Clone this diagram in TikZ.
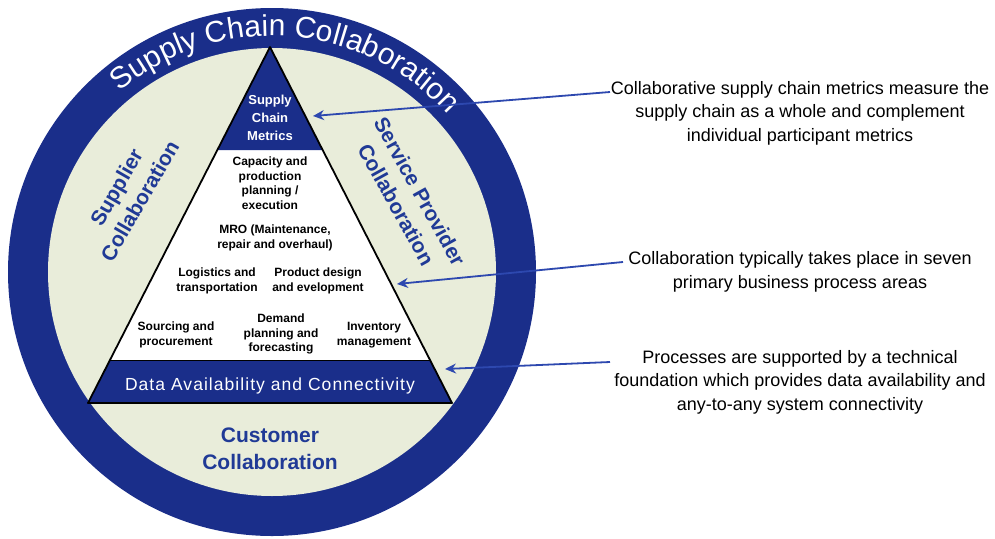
\documentclass[tikz,border=0pt]{standalone}
\usepackage{fontspec}
\setmainfont{Liberation Sans}
\usetikzlibrary{decorations.text,arrows.meta}
\definecolor{ringblue}{RGB}{26,46,138}
\definecolor{fillcream}{RGB}{233,237,218}
\definecolor{txtblue}{RGB}{32,58,150}
\definecolor{arrowblue}{RGB}{45,72,175}
\newcommand{\ringfont}{\fontsize{30}{30}\selectfont\color{white}}
\begin{document}
\begin{tikzpicture}[x=1pt,y=1pt,
  tri/.style={font=\bfseries\fontsize{12}{14.5}\selectfont, align=center, inner sep=0pt},
  bandtxt/.style={font=\bfseries\fontsize{13}{18}\selectfont, text=white, align=center, inner sep=0pt},
  side/.style={font=\bfseries\fontsize{21}{27}\selectfont, text=txtblue, align=center, inner sep=0pt},
  note/.style={font=\fontsize{18}{23.5}\selectfont, align=center, inner sep=0pt},
  pointer/.style={arrowblue, line width=1.8pt, -{Stealth[length=11pt,width=10pt]}}]
\useasboundingbox (0,0) rectangle (995,-538);
\fill[white] (0,0) rectangle (995,-538);
\coordinate (C) at (272,-272);
\fill[ringblue] (C) circle (264);
\fill[fillcream] (C) circle (224);
% triangle
\coordinate (A) at (270,-47);
\coordinate (BL) at (88,-403);
\coordinate (BR) at (452,-403);
\coordinate (ML1) at (217.3,-150);
\coordinate (MR1) at (322.7,-150);
\coordinate (ML2) at (110,-360);
\coordinate (MR2) at (430,-360);
\fill[white] (A)--(BL)--(BR)--cycle;
\fill[ringblue] (A)--(ML1)--(MR1)--cycle;
\fill[ringblue] (ML2)--(BL)--(BR)--(MR2)--cycle;
\draw[line width=0.6pt] (ML2)--(MR2);
\draw[line width=1.8pt, line join=round] (A)--(BL)--(BR)--cycle;
% ring text
\path[decorate, decoration={text along path, text align=center,
  text={|\ringfont|Supply Chain Collaboration}}]
  (C) ++(149:236) arc[start angle=149, end angle=23, radius=236];
% triangle texts
\node[bandtxt] (scm) at (270,-118) {Supply\\Chain\\Metrics};
\node[tri] (cap) at (270,-183) {Capacity and\\production\\planning /\\execution};
\node[tri] (mro) at (275,-238) {MRO (Maintenance,\\repair and overhaul)};
\node[tri] (log) at (217,-281) {Logistics and\\transportation};
\node[tri] (prod) at (318,-281) {Product design\\and evelopment};
\node[tri] (src) at (176,-335) {Sourcing and\\procurement};
\node[tri] (dem) at (281,-334) {Demand\\planning and\\forecasting};
\node[tri] (inv) at (374,-335) {Inventory\\management};
\node[inner sep=0pt, text=white, font=\fontsize{17.5}{20}\selectfont\addfontfeature{LetterSpace=6}] (data) at (270,-386) {Data Availability and Connectivity};
% side texts
\node[side] (cust) at (270,-449) {Customer\\Collaboration};
\node[side, rotate=60] (supp) at (128,-194) {Supplier\\Collaboration};
\node[side, rotate=-61] (serv) at (408,-198) {Service Provider\\Collaboration};
% notes
\node[note] (n1) at (800,-113) {Collaborative supply chain metrics measure the\\supply chain as a whole and complement\\individual participant metrics};
\node[note] (n2) at (800,-272) {Collaboration typically takes place in seven\\primary business process areas};
\node[note] (n3) at (800,-382) {Processes are supported by a technical\\foundation which provides data availability and\\any-to-any system connectivity};
% arrows
\coordinate (s1) at (610,-92);
\coordinate (e1) at (313,-116);
\coordinate (s2) at (623,-262);
\coordinate (e2) at (397,-284);
\coordinate (s3) at (610,-362);
\coordinate (e3) at (445,-369);
\draw[pointer] (s1) -- (e1);
\draw[pointer] (s2) -- (e2);
\draw[pointer] (s3) -- (e3);
\end{tikzpicture}
\end{document}
